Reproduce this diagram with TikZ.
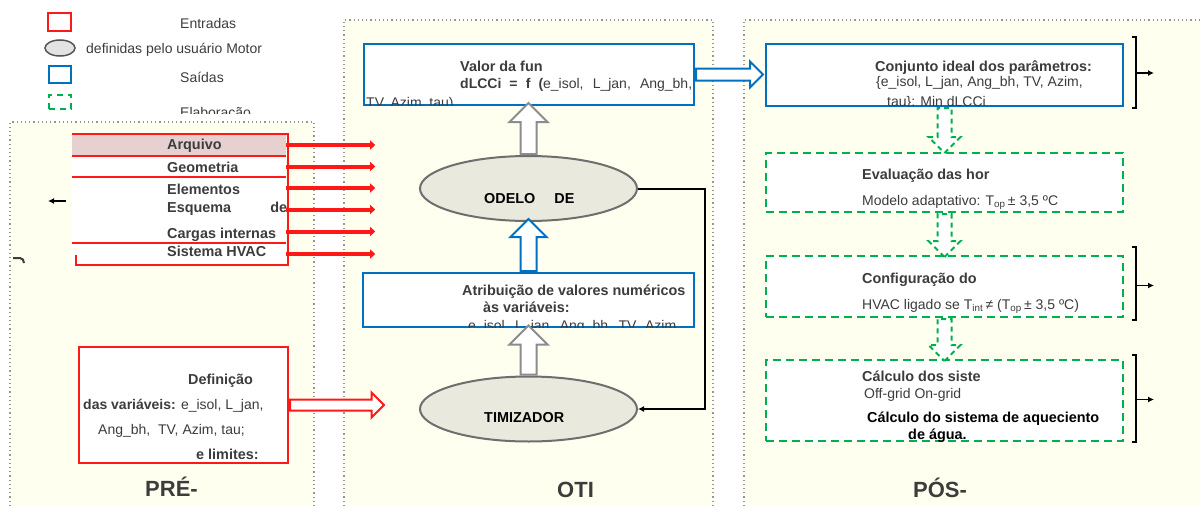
\documentclass[tikz,border=0pt]{standalone}
\usepackage{fontspec}
\setmainfont{Liberation Sans}
\usepackage{tikz}
\tikzset{>=latex}
\usetikzlibrary{positioning,calc}
\usetikzlibrary{arrows.meta}
\usetikzlibrary{shapes.geometric,shapes.arrows}
\definecolor{inred}{RGB}{255,24,24}
\definecolor{outblue}{RGB}{0,112,192}
\definecolor{elabgreen}{RGB}{0,176,80}
\definecolor{motorfill}{RGB}{233,233,221}
\definecolor{motorline}{RGB}{110,110,110}
\definecolor{arqfill}{RGB}{230,208,208}
\definecolor{panelfill}{RGB}{255,255,240}
\definecolor{panelline}{RGB}{150,150,150}
\definecolor{darktext}{RGB}{60,60,60}
\definecolor{hollowgray}{RGB}{140,140,140}
\tikzset{
	txt/.style={font=\fontsize{14}{17}\selectfont,text=darktext,anchor=base west,inner sep=0pt},
	btxt/.style={txt,font=\fontsize{14.4}{17}\selectfont\bfseries},
	paneltitle/.style={font=\fontsize{22}{26}\selectfont\bfseries,text=darktext,anchor=base west,inner sep=0pt},
	panel/.style={draw=panelline,line width=1.2pt,dash pattern=on 1.2pt off 3pt},
	inbox/.style={draw=inred,line width=2pt,fill=white,rectangle,anchor=center},
	outbox/.style={draw=outblue,line width=2pt,fill=white,rectangle,anchor=center},
	elabbox/.style={draw=elabgreen,line width=2pt,dash pattern=on 8pt off 5pt,fill=white,rectangle,anchor=center},
	motor/.style={ellipse,draw=motorline,line width=2pt,fill=motorfill,minimum width=217pt,minimum height=65pt},
	listrow/.style={rectangle,fill=white,minimum width=214pt,inner sep=0pt},
	hollow/.style={single arrow,fill=white,line width=2pt,inner xsep=0pt,text height=0pt,text depth=0pt,
		single arrow tip angle=90,single arrow head indent=0pt,anchor=tail},
	feed/.style={line width=4pt,draw=inred,-{Triangle[length=5pt,width=9pt]}},
	line/.style={draw,line width=2pt,-{Latex[length=6pt,width=6pt]}},
	brack/.style={draw,line width=2pt},
}
\begin{document}
\begin{tikzpicture}[x=1pt,y=-1pt]
	\useasboundingbox (0,0) rectangle (1200,506);
	
	% Panels
	\fill[panelfill] (10,122) rectangle (314,506);
	\draw[panel] (10,506) -- (10,122) -- (314,122) -- (314,506);
	\fill[panelfill] (344,20) rectangle (713,506);
	\draw[panel] (344,506) -- (344,20) -- (713,20) -- (713,506);
	\fill[panelfill] (744,20) rectangle (1200,506);
	\draw[panel] (744,506) -- (744,20) -- (1200,20);
	
	% Legend
	\node[inbox,minimum width=23pt,minimum height=18pt] (legin) at (59.5,22) {};
	\node[txt] (tlegin) at (180,28) {Entradas};
	\node[ellipse,draw={rgb,255:red,85;green,85;blue,85},fill={rgb,255:red,227;green,227;blue,227},line width=1.5pt,minimum width=30pt,minimum height=16pt] (legmotor) at (60,48) {};
	\node[txt] (tlegmotor) at (86,53) {definidas pelo usuário Motor};
	\node[outbox,minimum width=22pt,minimum height=17pt] (legout) at (60,74.5) {};
	\node[txt] (tlegout) at (180,82) {Saídas};
	\node[elabbox,dash pattern=on 6pt off 5pt,minimum width=22pt,minimum height=14pt] (legelab) at (60,102) {};
	\begin{scope}
		\clip (150,95) rectangle (300,113);
		\node[txt] (tlegelab) at (180,117) {Elaboração};
	\end{scope}
	
	% Entradas list
	\node[listrow,fill=arqfill,minimum height=22pt] (arq) at (179,145) {};
	\node[listrow,minimum height=21pt] (geo) at (179,166.5) {};
	\node[listrow,minimum height=22pt] (ele) at (179,188) {};
	\node[listrow,minimum height=21pt] (esq) at (179,209.5) {};
	\node[listrow,minimum height=23pt] (car) at (179,231.5) {};
	\node[listrow,minimum height=22pt] (hvac) at (179,254) {};
	\foreach \r in {arq,geo,ele,hvac}
		\draw[draw=inred,line width=2pt] (\r.north west) -- (\r.north east);
	\draw[draw=inred,line width=2pt] ($(hvac.south west)+(4,-10)$) -- ($(hvac.south west)+(4,0)$)
		-- ($(hvac.south east)+(2,0)$) -- ($(arq.north east)+(2,0)$) -- ($(arq.north west)+(4,0)$);
	\node[btxt] (tarq) at (167,149) {Arquivo};
	\node[btxt] (tgeo) at (167,172) {Geometria};
	\node[btxt] (tele) at (167,194) {Elementos};
	\node[btxt] (tesq) at (167,212) {\makebox[120pt][s]{Esquema de}};
	\node[btxt] (tcar) at (167,238) {Cargas internas};
	\node[btxt] (thvac) at (167,256) {Sistema HVAC};
	\foreach \r in {arq,geo,ele,esq,car,hvac}{
		\coordinate (\r out) at ($(\r.east)+(89,0)$);
		\draw[feed] (\r.east) -- (\r out);
	}
	\coordinate (lfrom) at (66,201);
	\coordinate (lto) at (48,201);
	\draw[line] (lfrom) -- (lto);
	\draw[line width=2pt,darktext] (13,258) -- (20,258) to[out=0,in=90] (24,263);
	
	% Definicao
	\node[inbox,minimum width=209pt,minimum height=116pt] (defvar) at (183.5,405) {};
	\node[btxt] (tdef1) at (188,384) {Definição};
	\node[txt] (tdef2) at (83,409) {\textbf{das variáveis:} e\_isol, L\_jan,};
	\node[txt] (tdef3) at (98,434) {Ang\_bh,\ \ TV, Azim,\ tau;};
	\node[btxt] (tdef4) at (196,459) {e limites:};
	\node[hollow,draw=inred,inner ysep=4.5pt,single arrow head extend=7pt,minimum height=94pt] (defarrow) at (defvar.east) {};
	
	% Otimizacao
	\node[outbox,minimum width=330pt,minimum height=61pt] (valor) at (529,74.5) {};
	\node[btxt] (tval1) at (460,71) {Valor da fun};
	\node[txt] (tval2) at (460,88) {\makebox[232pt][s]{\textbf{dLCCi = f (}e\_isol, L\_jan, Ang\_bh,}};
	\begin{scope}
		\clip ($(valor.south west)+(0,-1)$) rectangle (valor.north east);
		\node[txt] (tval3) at (366,107) {TV, Azim, tau)};
	\end{scope}
	\node[motor] (motor) at (528.5,188.5) {};
	\node[btxt,text=black] (tmotor) at (484,203) {ODELO\hspace{19pt}DE};
	\node[outbox,minimum width=331pt,minimum height=54pt] (atrib) at (528.5,300) {};
	\node[btxt] (tatr1) at (462,295) {Atribuição de valores numéricos};
	\node[btxt] (tatr2) at (483,312) {às variáveis:};
	\begin{scope}
		\clip ($(atrib.south west)+(0,-1)$) rectangle (atrib.north east);
		\node[txt] (tatr3) at (468,330) {\makebox[208pt][s]{e\_isol, L\_jan, Ang\_bh, TV, Azim}};
	\end{scope}
	\node[motor] (otim) at (528.5,409) {};
	\node[btxt,text=black] (totim) at (484,422) {TIMIZADOR};
	\node[hollow,draw=hollowgray,rotate=90,inner ysep=7pt,single arrow head extend=11pt,minimum height=51pt] (up1) at (motor.north) {};
	\node[hollow,draw=outblue,rotate=90,inner ysep=7pt,single arrow head extend=10pt,minimum height=52pt] (up2) at (atrib.north) {};
	\node[hollow,draw=hollowgray,rotate=90,inner ysep=7pt,single arrow head extend=11pt,minimum height=49pt] (up3) at (otim.north) {};
	\draw[line] (motor.east) -- ++(67,0) |- (otim.east);
	\node[hollow,draw=outblue,inner ysep=5pt,single arrow head extend=7pt,minimum height=67pt] (valarrow) at (valor.east) {};
	
	% Pos-processamento
	\node[outbox,minimum width=357pt,minimum height=62pt] (conj) at (944.5,75) {};
	\node[elabbox,minimum width=357pt,minimum height=59pt] (evalh) at (944.5,182.5) {};
	\node[elabbox,minimum width=357pt,minimum height=61pt] (config) at (944.5,286.5) {};
	\node[elabbox,minimum width=357pt,minimum height=81pt] (calcs) at (944.5,400.5) {};
	\node[hollow,draw=elabgreen,dash pattern=on 5pt off 4pt,rotate=-90,inner ysep=6pt,single arrow head extend=9pt,minimum height=45pt] (down1) at (conj.south) {};
	\node[hollow,draw=elabgreen,dash pattern=on 5pt off 4pt,rotate=-90,inner ysep=6pt,single arrow head extend=9pt,minimum height=43pt] (down2) at (evalh.south) {};
	\node[hollow,draw=elabgreen,dash pattern=on 5pt off 4pt,rotate=-90,inner ysep=6pt,single arrow head extend=9pt,minimum height=42pt] (down3) at (config.south) {};
	\node[btxt] (tconj1) at (875,71) {Conjunto ideal dos parâmetros:};
	\node[txt] (tconj2) at (876,86) {\{e\_isol, L\_jan, Ang\_bh, TV, Azim,};
	\begin{scope}
		\clip ($(conj.south west)+(0,-1)$) rectangle (conj.north east);
		\node[txt] (tconj3) at (887,106) {tau\}: Min dLCCi};
	\end{scope}
	\node[btxt] (teval1) at (862,179) {Evaluação das hor};
	\node[txt] (teval2) at (862,205) {Modelo adaptativo: T\textsubscript{op}\,± 3,5 ºC};
	\node[btxt] (tconf1) at (862,283) {Configuração do};
	\node[txt] (tconf2) at (862,309) {HVAC ligado se T\textsubscript{int}\,≠ (T\textsubscript{op}\,± 3,5 ºC)};
	\node[btxt] (tcalc1) at (862,381) {Cálculo dos siste};
	\node[txt] (tcalc2) at (864,398) {Off-grid On-grid};
	\node[btxt,text=black] (tcalc3) at (867,422) {Cálculo do sistema de aqueciento};
	\begin{scope}
		\clip ($(calcs.south west)+(0,-1)$) rectangle (calcs.north east);
		\node[btxt,text=black] (tcalc4) at (908,439) {de água.};
	\end{scope}
	
	% Brackets
	\draw[brack] ($(conj.north east)+(8,-6)$) -- ++(4,0) -- ++(0,71) -- ++(-4,0);
	\coordinate (conjout) at ($(conj.east)+(30,-2)$);
	\draw[line,line width=1.5pt] ($(conj.east)+(13,-2)$) -- (conjout);
	\draw[brack] ($(config.north east)+(8,-8)$) -- ++(4,0) -- ++(0,73) -- ++(-4,0);
	\coordinate (configout) at ($(config.east)+(30,-1)$);
	\draw[line,line width=1.5pt] ($(config.east)+(13,-1)$) -- (configout);
	\draw[brack] ($(calcs.north east)+(8,-4)$) -- ++(4,0) -- ++(0,87) -- ++(-4,0);
	\coordinate (calcsout) at ($(calcs.east)+(30,-1)$);
	\draw[line,line width=1.5pt] ($(calcs.east)+(13,-1)$) -- (calcsout);
	
	% Panel titles
	\node[paneltitle] (tpre) at (145,496) {PRÉ-};
	\node[paneltitle] (toti) at (557,497) {OTI};
	\node[paneltitle] (tpos) at (913,497) {PÓS-};
\end{tikzpicture}
\end{document}
